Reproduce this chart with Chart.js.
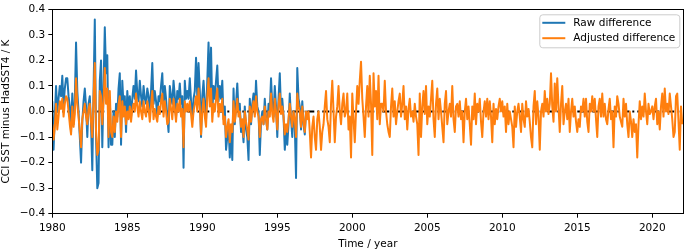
<!DOCTYPE html>
<html>
<head>
<meta charset="utf-8">
<script src="https://cdn.jsdelivr.net/npm/chart.js@4/dist/chart.umd.min.js"></script>
<style>
  html, body { margin: 0; padding: 0; background: #fff; }
  #wrap { width: 685px; height: 251px; }
</style>
</head>
<body>
<div id="wrap"><canvas id="sstChart" width="685" height="251"></canvas></div>
<script>
// Monthly series starting Jan 1980
const startYear = 1980;
const perYear = 12;

// Raw difference, CCI minus HadSST4 (K), 1980 - 1997
const rawDiff = [
  0.04, -0.15, -0.02, 0.10, 0.00, 0.05, 0.10, 0.06, 0.14, 0.02, 0.09, 0.13,     // 1980
  0.13, 0.06, 0.02, -0.08, 0.07, -0.05, 0.04, 0.27, 0.08, 0.00, -0.10, -0.20,   // 1981
  -0.04, 0.04, 0.09, 0.02, -0.10, 0.03, 0.06, -0.05, -0.23, 0.08, 0.36, -0.10,  // 1982
  -0.30, -0.28, 0.12, 0.20, -0.14, 0.10, 0.33, 0.15, 0.22, -0.14, 0.05, -0.13,  // 1983
  -0.13, 0.00, -0.10, 0.03, -0.02, 0.09, 0.15, -0.13, 0.12, 0.02, 0.06, -0.08,  // 1984
  0.08, 0.00, 0.06, -0.02, 0.05, 0.10, 0.05, 0.16, 0.07, 0.04, 0.12, 0.06,      // 1985
  0.02, 0.10, 0.05, 0.03, 0.09, 0.06, 0.00, 0.08, 0.19, 0.03, 0.08, 0.04,       // 1986
  -0.02, 0.06, 0.04, 0.10, 0.15, 0.02, 0.10, 0.05, -0.02, -0.08, 0.10, 0.06,    // 1987
  0.03, 0.12, 0.06, -0.02, 0.08, 0.05, 0.11, 0.03, 0.06, -0.22, 0.12, 0.05,     // 1988
  0.08, 0.05, 0.13, 0.04, -0.03, 0.05, 0.08, 0.21, 0.06, 0.19, 0.08, -0.10,     // 1989
  0.06, 0.12, 0.03, -0.03, 0.12, 0.27, 0.08, 0.25, 0.00, 0.10, 0.05, 0.12,      // 1990
  0.18, 0.04, 0.10, 0.05, 0.12, -0.03, 0.02, -0.15, -0.10, -0.05, -0.18, -0.08, // 1991
  -0.19, 0.09, -0.05, 0.03, 0.11, 0.00, 0.03, -0.08, -0.06, -0.12, 0.02, -0.07, // 1992
  -0.10, -0.19, 0.05, -0.05, 0.03, 0.07, -0.01, 0.12, 0.02, 0.00, -0.17, -0.04, // 1993
  0.00, -0.05, 0.05, -0.03, -0.07, 0.03, 0.00, 0.13, 0.02, -0.02, 0.10, 0.02,   // 1994
  -0.10, 0.05, 0.15, 0.00, 0.05, -0.02, -0.15, -0.08, -0.13, -0.05, 0.07, -0.03, // 1995
  -0.10, 0.00, -0.05, -0.26, 0.17, 0.05, 0.02, -0.07, 0.04, -0.05, -0.09, 0.00, // 1996
  -0.03                                                                          // 1997
];

// Adjusted difference (K), 1980 - 2022
const adjustedDiff = [
  -0.05, -0.11, -0.06, 0.03, -0.07, -0.02, 0.04, 0.01, 0.05, -0.02, 0.03, 0.06,   // 1980
  0.05, 0.00, -0.05, -0.09, 0.02, -0.06, -0.01, 0.13, 0.03, -0.02, -0.08, -0.14,  // 1981
  -0.03, 0.00, 0.03, -0.02, -0.05, 0.01, 0.03, -0.04, -0.10, 0.05, 0.19, -0.08,   // 1982
  -0.17, -0.15, 0.08, 0.06, -0.05, 0.04, 0.17, 0.03, 0.09, -0.10, 0.08, -0.08,    // 1983
  -0.10, -0.02, -0.08, 0.00, -0.04, 0.03, 0.06, -0.10, 0.04, -0.02, 0.02, -0.05,  // 1984
  0.00, -0.03, 0.02, -0.04, 0.01, 0.03, 0.00, 0.07, 0.02, -0.02, 0.04, 0.00,      // 1985
  -0.03, 0.04, 0.00, -0.02, 0.04, 0.01, -0.04, 0.02, 0.08, -0.03, 0.01, -0.02,    // 1986
  -0.04, 0.02, -0.01, 0.04, 0.07, -0.02, 0.04, 0.00, -0.05, -0.04, 0.05, 0.01,    // 1987
  -0.03, 0.05, 0.01, -0.04, 0.03, 0.00, 0.05, -0.02, 0.01, -0.14, 0.04, 0.00,     // 1988
  0.03, 0.00, 0.04, -0.01, -0.06, 0.00, 0.03, 0.06, 0.00, 0.09, 0.02, -0.09,      // 1989
  0.00, 0.05, -0.02, -0.06, 0.06, 0.13, 0.02, 0.09, -0.04, 0.03, 0.00, 0.05,      // 1990
  0.09, -0.02, 0.03, 0.00, 0.05, -0.05, -0.02, -0.10, -0.06, -0.03, -0.12, -0.05, // 1991
  -0.08, 0.04, -0.04, 0.00, 0.05, -0.02, 0.00, -0.06, -0.03, -0.10, 0.00, -0.04,  // 1992
  -0.07, -0.11, 0.02, -0.04, 0.01, 0.04, -0.02, 0.06, 0.00, -0.02, -0.10, -0.03,  // 1993
  -0.02, -0.05, 0.02, -0.03, -0.07, 0.00, -0.02, 0.07, -0.01, -0.04, 0.05, 0.00,  // 1994
  -0.07, 0.02, 0.07, -0.01, 0.02, -0.02, -0.09, -0.05, -0.08, -0.03, 0.03, -0.02, // 1995
  -0.06, 0.00, -0.03, -0.10, 0.07, 0.02, 0.00, -0.06, 0.02, -0.04, -0.08, 0.00,   // 1996
  -0.03, 0.00, -0.08, -0.18, -0.06, -0.02, -0.10, -0.15, -0.03, 0.00, -0.06, -0.15, // 1997
  -0.08, -0.05, 0.02, 0.08, -0.03, -0.06, -0.12, 0.03, 0.12, 0.00, -0.12, -0.02,  // 1998
  0.02, 0.10, 0.00, -0.05, 0.03, 0.07, -0.02, 0.00, 0.07, -0.07, -0.02, -0.18,    // 1999
  0.07, -0.03, -0.12, 0.00, 0.10, 0.03, 0.12, 0.195, 0.05, -0.02, -0.10, 0.02,    // 2000
  0.10, -0.02, 0.14, 0.03, -0.17, 0.15, 0.02, 0.08, -0.03, 0.14, -0.05, 0.03,     // 2001
  0.03, 0.00, 0.12, 0.00, -0.05, -0.08, -0.10, 0.02, 0.09, -0.02, 0.04, -0.05,    // 2002
  0.00, 0.04, 0.07, -0.02, 0.03, 0.10, -0.03, 0.02, -0.07, 0.01, 0.05, -0.02,     // 2003
  0.00, -0.04, 0.03, -0.02, -0.05, -0.17, 0.07, -0.10, 0.02, 0.08, -0.01, 0.10,   // 2004
  -0.05, 0.02, -0.02, 0.05, 0.12, -0.03, -0.10, 0.03, 0.09, -0.03, 0.05, 0.00,    // 2005
  -0.06, -0.12, 0.03, 0.08, -0.05, 0.00, 0.03, -0.02, 0.10, -0.03, -0.08, 0.02,   // 2006
  0.03, -0.02, 0.04, -0.03, 0.00, -0.12, 0.00, 0.05, -0.03, 0.02, -0.05, -0.13,   // 2007
  0.02, -0.03, 0.07, -0.05, 0.03, 0.00, 0.05, -0.04, -0.10, 0.00, 0.04, -0.02,    // 2008
  0.05, -0.03, 0.04, -0.02, -0.12, 0.03, -0.05, 0.01, -0.03, 0.02, 0.05, 0.00,    // 2009
  0.04, -0.02, 0.02, -0.08, 0.03, -0.05, 0.00, -0.03, -0.06, -0.14, 0.02, -0.06,  // 2010
  0.00, 0.03, -0.02, -0.08, 0.03, -0.03, -0.06, 0.04, -0.02, 0.01, -0.04, -0.10,  // 2011
  -0.14, 0.02, 0.08, -0.05, 0.04, -0.02, -0.15, 0.00, 0.03, -0.02, 0.08, 0.00,    // 2012
  0.05, -0.01, 0.03, 0.15, 0.02, -0.04, 0.11, 0.00, 0.13, 0.02, -0.08, 0.03,      // 2013
  0.10, -0.05, 0.00, 0.03, -0.03, 0.05, -0.08, 0.00, 0.05, -0.02, 0.02, -0.04,    // 2014
  -0.08, -0.03, -0.06, 0.02, 0.00, 0.05, -0.02, 0.05, -0.04, -0.08, 0.03, 0.00,   // 2015
  0.06, 0.00, 0.05, -0.03, -0.10, 0.02, 0.05, -0.02, 0.07, -0.02, 0.03, -0.03,    // 2016
  -0.05, 0.01, 0.05, -0.03, 0.00, -0.14, 0.02, -0.02, 0.06, 0.03, -0.02, -0.04,   // 2017
  -0.06, 0.05, -0.02, 0.03, -0.05, -0.10, 0.00, -0.04, -0.10, -0.03, -0.08, -0.05, // 2018
  -0.18, -0.05, 0.04, -0.03, 0.02, -0.02, 0.07, 0.00, -0.05, 0.03, -0.01, 0.00,   // 2019
  0.02, -0.03, 0.02, 0.05, -0.05, 0.00, -0.07, 0.02, 0.07, -0.02, 0.09, 0.00,     // 2020
  0.03, -0.01, 0.07, 0.02, -0.03, -0.10, -0.08, 0.06, 0.07, -0.04, -0.15, 0.02,   // 2021
  -0.05                                                                            // 2022
];

const zeroLine = [{ x: 1980, y: 0 }, { x: 2022, y: 0 }];
const seriesLabels = ['Raw difference', 'Adjusted difference'];
const seriesColors = ['#1f77b4', '#ff7f0e'];

const FONT = "'DejaVu Sans', sans-serif";
const FONT_SIZE = 10.5;

function toPoints(values) {
  return values.map((v, i) => ({ x: startYear + i / perYear, y: v }));
}

function fmtY(v) {
  const s = Number(v).toFixed(1);
  return s === '-0.0' ? '0.0' : s.replace('-', '\u2212');
}

// top/right spines like matplotlib
const framePlugin = {
  id: 'frame',
  afterDatasetsDraw(chart) {
    const { ctx, chartArea: a } = chart;
    ctx.save();
    ctx.strokeStyle = '#000';
    ctx.lineWidth = 1;
    ctx.strokeRect(Math.round(a.left) + 0.5, Math.round(a.top) + 0.5,
      Math.round(a.right - a.left), Math.round(a.bottom - a.top));
    ctx.restore();
  }
};

// legend box in the upper right of the plot
const legendBoxPlugin = {
  id: 'legendBox',
  afterDraw(chart) {
    const { ctx, chartArea: a } = chart;
    const w = 140, h = 33;
    const x = a.right - 4 - w, y = a.top + 5;
    ctx.save();
    ctx.fillStyle = 'rgba(255,255,255,0.8)';
    ctx.strokeStyle = '#cccccc';
    ctx.lineWidth = 1;
    ctx.beginPath();
    ctx.roundRect(x + 0.5, y + 0.5, w, h, 3);
    ctx.fill();
    ctx.stroke();
    ctx.font = FONT_SIZE + 'px ' + FONT;
    ctx.textBaseline = 'middle';
    seriesLabels.forEach((label, i) => {
      const ly = y + 8.5 + i * 15.4;
      ctx.strokeStyle = seriesColors[i];
      ctx.lineWidth = 2;
      ctx.beginPath();
      ctx.moveTo(x + 3, ly);
      ctx.lineTo(x + 26, ly);
      ctx.stroke();
      ctx.fillStyle = '#000';
      ctx.fillText(label, x + 34, ly);
    });
    ctx.restore();
  }
};

const ctx = document.getElementById('sstChart').getContext('2d');
new Chart(ctx, {
  type: 'line',
  data: {
    datasets: [
      {
        label: seriesLabels[1],
        data: toPoints(adjustedDiff),
        borderColor: seriesColors[1],
        borderWidth: 2,
        borderJoinStyle: 'round',
        pointRadius: 0,
        order: 0
      },
      {
        label: seriesLabels[0],
        data: toPoints(rawDiff),
        borderColor: seriesColors[0],
        borderWidth: 2,
        borderJoinStyle: 'round',
        pointRadius: 0,
        order: 1
      },
      {
        label: 'zero',
        data: zeroLine,
        borderColor: '#000',
        borderWidth: 2,
        borderDash: [7, 3, 2, 3],
        pointRadius: 0,
        order: 2
      }
    ]
  },
  options: {
    responsive: false,
    animation: false,
    layout: { padding: { top: 4.7, right: 1.7, left: 0, bottom: 0 } },
    plugins: {
      legend: { display: false },
      tooltip: { enabled: false }
    },
    scales: {
      x: {
        type: 'linear',
        min: 1980,
        max: 2022.07,
        border: { display: true, color: '#000', width: 1 },
        grid: { drawOnChartArea: false, drawTicks: true, tickLength: 4, color: '#000' },
        ticks: {
          stepSize: 5,
          includeBounds: false,
          maxRotation: 0,
          padding: 4,
          color: '#000',
          font: { family: FONT, size: FONT_SIZE },
          callback: v => String(v)
        },
        title: {
          display: true,
          text: 'Time / year',
          color: '#000',
          padding: { top: 0, bottom: 0 },
          font: { family: FONT, size: FONT_SIZE }
        },
        afterFit(scale) { scale.height = 37.3; }
      },
      y: {
        min: -0.4,
        max: 0.4,
        border: { display: true, color: '#000', width: 1 },
        grid: { drawOnChartArea: false, drawTicks: true, tickLength: 4, color: '#000' },
        ticks: {
          stepSize: 0.1,
          padding: 3,
          color: '#000',
          font: { family: FONT, size: FONT_SIZE },
          callback: v => fmtY(v)
        },
        title: {
          display: true,
          text: 'CCI SST minus HadSST4 / K',
          color: '#000',
          padding: { top: 0, bottom: 0 },
          font: { family: FONT, size: FONT_SIZE }
        },
        afterFit(scale) { scale.width = 52.3; }
      }
    }
  },
  plugins: [framePlugin, legendBoxPlugin]
});
</script>
</body>
</html>
